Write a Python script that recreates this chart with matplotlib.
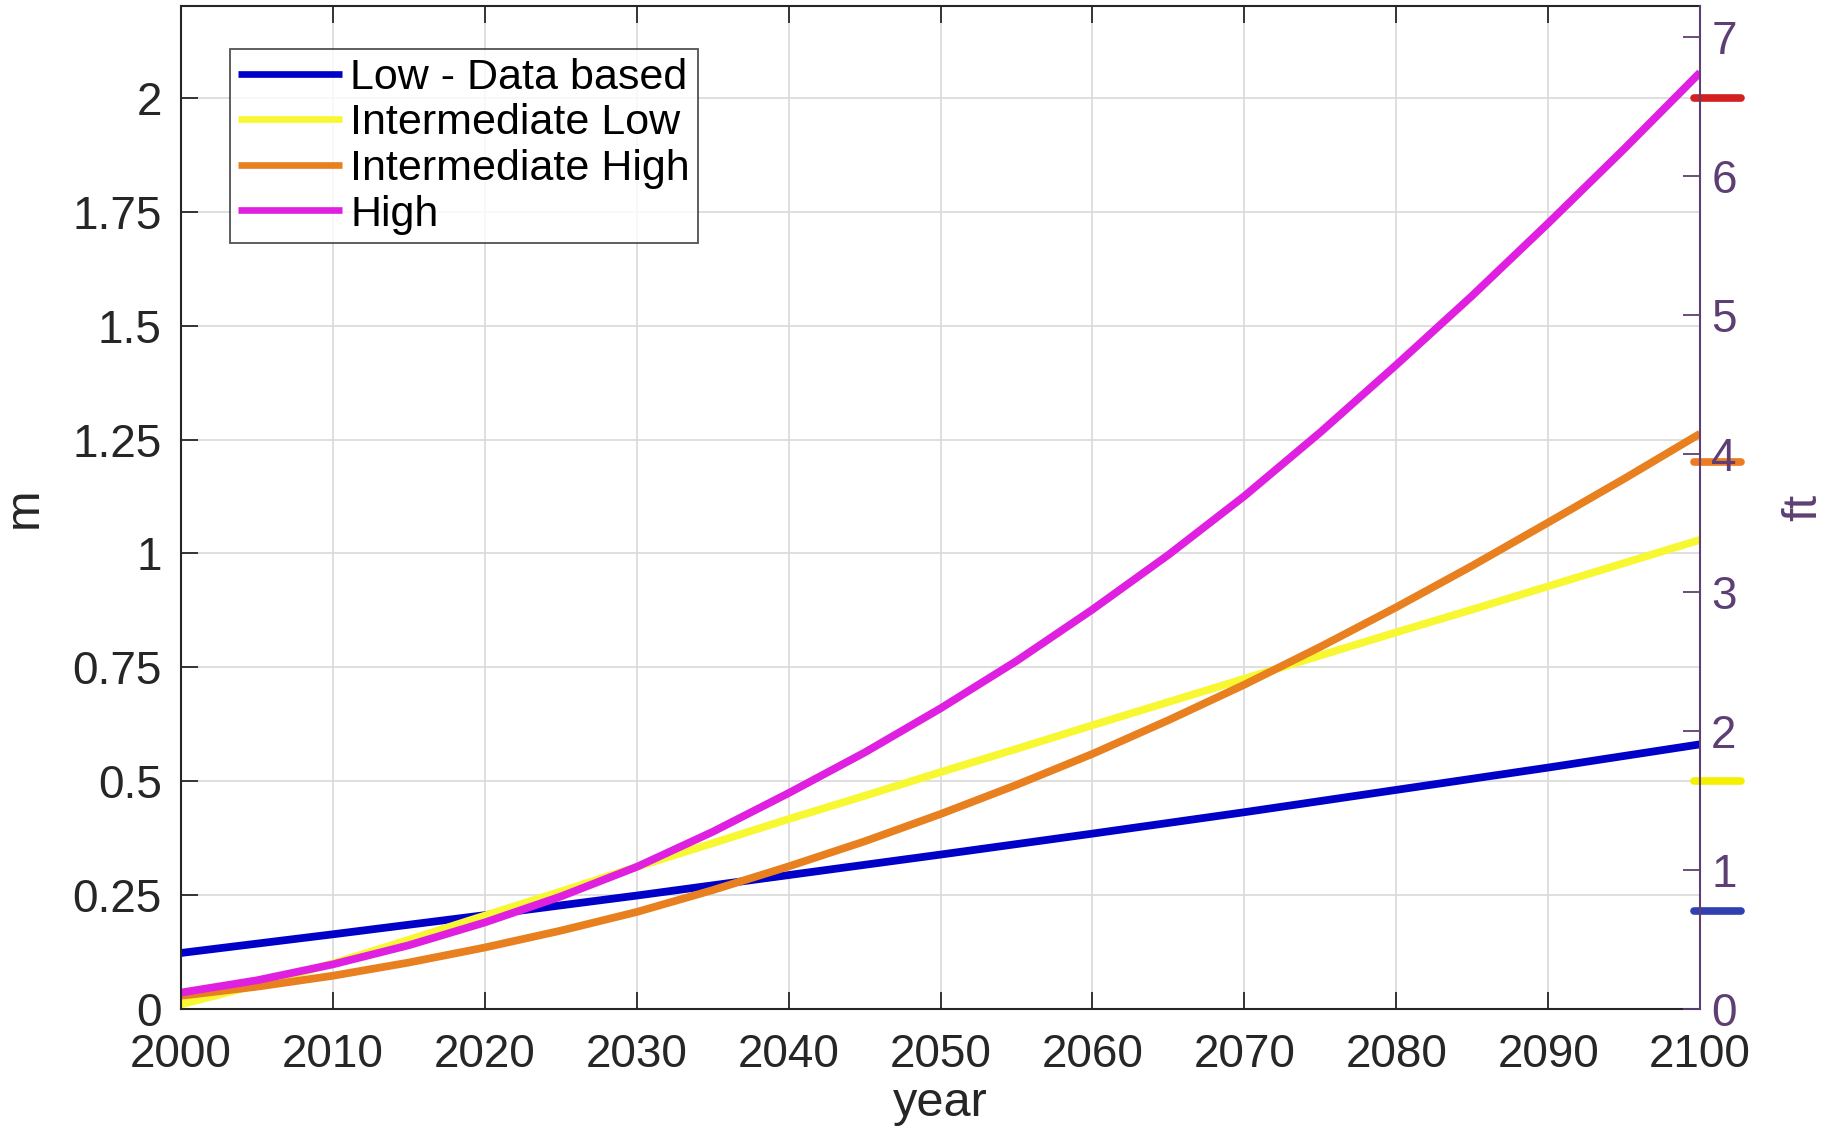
import matplotlib
matplotlib.use("Agg")
import matplotlib.pyplot as plt

years = list(range(2000, 2101, 5))
low_data = [0.123, 0.1435, 0.164, 0.185, 0.206, 0.2275, 0.249, 0.2715, 0.294, 0.3165, 0.339,
            0.362, 0.385, 0.4085, 0.432, 0.4565, 0.481, 0.5055, 0.53, 0.5555, 0.581]
int_low = [0.01, 0.053, 0.10, 0.152, 0.205, 0.258, 0.312, 0.364, 0.417, 0.468, 0.52,
           0.571, 0.623, 0.674, 0.725, 0.776, 0.827, 0.877, 0.928, 0.979, 1.03]
int_high = [0.029, 0.049, 0.073, 0.102, 0.135, 0.172, 0.213, 0.261, 0.313, 0.368, 0.428,
            0.492, 0.56, 0.634, 0.712, 0.795, 0.882, 0.973, 1.068, 1.164, 1.263]
high = [0.036, 0.063, 0.098, 0.140, 0.19, 0.247, 0.312, 0.389, 0.474, 0.563, 0.66,
        0.764, 0.877, 0.997, 1.126, 1.266, 1.414, 1.566, 1.725, 1.888, 2.056]

labels = ["Low - Data based", "Intermediate Low", "Intermediate High", "High"]
colors = ["#0000c8", "#f8f832", "#e8801f", "#e020e0"]

marker_vals_m = [0.215, 0.5, 1.2, 2.0]
marker_colors = ["#3040b0", "#f5f000", "#ee7a22", "#d42020"]

x_ticks = list(range(2000, 2101, 10))
y_ticks = [0, 0.25, 0.5, 0.75, 1, 1.25, 1.5, 1.75, 2]
y_ticklabels = ["0", "0.25", "0.5", "0.75", "1", "1.25", "1.5", "1.75", "2"]
ft_ticks = [0, 1, 2, 3, 4, 5, 6, 7]
M2FT = 3.28084

plt.rcParams['font.family'] = ['Liberation Sans', 'DejaVu Sans']
FS = 33
LFS = 31
dark = "#262626"
purple = "#5e3f73"

fig = plt.figure(figsize=(18.29, 11.29), dpi=100)
ax = fig.add_axes([0.099, 0.1063, 0.8305, 0.8884])
ymax = 2.202

for y, lab, c in zip([low_data, int_low, int_high, high], labels, colors):
    ax.plot(years, y, color=c, lw=5.6, label=lab, solid_capstyle='butt')

ax.set_xlim(2000, 2100)
ax.set_ylim(0, ymax)
ax.set_xticks(x_ticks)
ax.set_yticks(y_ticks)
ax.set_yticklabels(y_ticklabels)
ax.grid(True, color="#d9d9d9", lw=1.2)
ax.tick_params(direction='in', length=12, width=1.3, labelsize=FS, colors=dark,
               top=True)
ax.tick_params(axis='x', pad=17)
ax.tick_params(axis='y', pad=14)
for s in ['left', 'bottom', 'top']:
    ax.spines[s].set_color(dark)
    ax.spines[s].set_linewidth(1.5)
ax.spines['right'].set_visible(False)
ax.set_xlabel("year", fontsize=FS + 2, color=dark, labelpad=3)
ax.set_ylabel("m", fontsize=FS + 2, color=dark, labelpad=18)

leg = ax.legend(loc='upper left', bbox_to_anchor=(0.032, 0.957), fontsize=LFS,
                handlelength=2.4, handletextpad=0.2, labelspacing=0.13,
                borderpad=0.2, borderaxespad=0, fancybox=False, frameon=True)
leg.get_frame().set_edgecolor(dark)
leg.get_frame().set_linewidth(1.3)
for h in leg.get_lines():
    h.set_linewidth(4.8)

ax2 = ax.twinx()
ax2.set_ylim(0, ymax * M2FT)
ax2.set_yticks(ft_ticks)
ax2.tick_params(direction='in', length=12, width=1.3, labelsize=FS, colors=purple, pad=8)
ax2.spines['right'].set_color(purple)
ax2.spines['right'].set_linewidth(1.5)
for s in ['left', 'top', 'bottom']:
    ax2.spines[s].set_visible(False)
ax2.set_ylabel("ft", fontsize=FS + 2, color=purple, labelpad=32)

for v, c in zip(marker_vals_m, marker_colors):
    ax.plot([2099.6, 2102.7], [v, v], color=c, lw=5.5, clip_on=False,
            solid_capstyle='round', zorder=5)

fig.savefig("out.png", dpi=100)
